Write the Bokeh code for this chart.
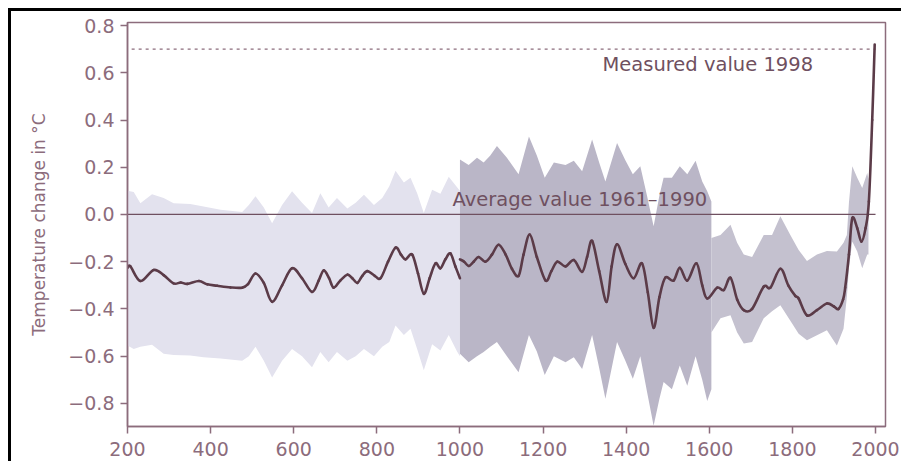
from bokeh.plotting import figure
from bokeh.models import Range1d, FixedTicker
from bokeh.core.properties import value
from bokeh.embed import file_html
from bokeh.resources import INLINE

# ---------------- data ----------------
# reconstruction, part 1 (200-1000)
seg1_years = [200, 207, 231, 263, 287, 311, 328, 344, 372, 392, 416, 448, 476, 490, 508, 528, 548, 572,
              596, 620, 644, 660, 672, 685, 696, 712, 729, 741, 753, 765, 777, 795, 809, 827, 845,
              858, 869, 885, 899, 913, 927, 941, 953, 965, 977, 989, 1000]
seg1_vals = [-0.226, -0.22, -0.282, -0.235, -0.257, -0.292, -0.288, -0.294, -0.282, -0.296, -0.302,
             -0.309, -0.31, -0.295, -0.25, -0.29, -0.37, -0.30, -0.228, -0.27, -0.328, -0.28, -0.237,
             -0.27, -0.31, -0.28, -0.255, -0.27, -0.29, -0.26, -0.24, -0.26, -0.27, -0.2, -0.14,
             -0.17, -0.19, -0.17, -0.25, -0.336, -0.27, -0.207, -0.228, -0.19, -0.165, -0.22, -0.27]

# reconstruction, part 2 (1000-1998)
seg2_years = [1000, 1010, 1021, 1033, 1045, 1061, 1077, 1093, 1110, 1125, 1141, 1153, 1168, 1185,
              1206, 1220, 1234, 1254, 1274, 1294, 1306, 1318, 1335, 1353, 1365, 1378, 1398, 1418,
              1438, 1452, 1466, 1480, 1494, 1514, 1529, 1547, 1569, 1583, 1595, 1619, 1635, 1651,
              1667, 1683, 1703, 1731, 1747, 1771, 1790, 1807, 1815, 1835, 1859, 1883, 1900, 1911,
              1922, 1927, 1936, 1944, 1956, 1966, 1976, 1984, 1992, 1998]
seg2_vals = [-0.19, -0.20, -0.218, -0.2, -0.18, -0.2, -0.17, -0.128, -0.17, -0.23, -0.26, -0.17,
             -0.085, -0.18, -0.28, -0.24, -0.2, -0.22, -0.193, -0.243, -0.18, -0.112, -0.24, -0.37,
             -0.22, -0.126, -0.21, -0.27, -0.207, -0.33, -0.48, -0.35, -0.268, -0.28, -0.226, -0.28,
             -0.207, -0.3, -0.356, -0.31, -0.32, -0.268, -0.36, -0.405, -0.40, -0.306, -0.31, -0.23,
             -0.3, -0.345, -0.356, -0.427, -0.405, -0.377, -0.39, -0.40, -0.36, -0.31, -0.17, -0.016,
             -0.058, -0.115, -0.058, 0.055, 0.40, 0.72]

# uncertainty band, 200-1000 (light)
band1_years = [200, 215, 231, 259, 287, 311, 351, 383, 424, 476, 492, 508, 528, 548, 572, 596, 620,
               644, 664, 684, 704, 729, 749, 769, 793, 813, 830, 845, 865, 881, 897, 913, 933, 953,
               973, 993, 1000]
band1_upper = [0.10, 0.095, 0.048, 0.086, 0.07, 0.048, 0.044, 0.034, 0.02, 0.01, 0.04, 0.077, 0.03,
               -0.037, 0.04, 0.098, 0.05, 0.006, 0.09, 0.03, 0.07, 0.025, 0.05, 0.084, 0.04, 0.07,
               0.12, 0.185, 0.135, 0.155, 0.09, 0.006, 0.105, 0.088, 0.16, 0.115, 0.10]
band1_lower = [-0.555, -0.57, -0.56, -0.552, -0.59, -0.595, -0.597, -0.605, -0.61, -0.62, -0.6,
               -0.56, -0.62, -0.69, -0.62, -0.57, -0.6, -0.647, -0.583, -0.626, -0.583, -0.62,
               -0.6, -0.57, -0.6, -0.56, -0.54, -0.47, -0.51, -0.484, -0.57, -0.66, -0.55, -0.576,
               -0.51, -0.58, -0.6]

# uncertainty band, 1000-1600 (dark)
band2_years = [1000, 1021, 1041, 1057, 1073, 1089, 1113, 1141, 1166, 1185, 1204, 1226, 1254, 1274,
               1294, 1318, 1335, 1350, 1378, 1398, 1416, 1434, 1450, 1466, 1480, 1490, 1510, 1529,
               1547, 1567, 1583, 1595, 1605]
band2_upper = [0.233, 0.21, 0.24, 0.22, 0.25, 0.29, 0.24, 0.17, 0.33, 0.25, 0.155, 0.22, 0.21,
               0.228, 0.183, 0.318, 0.22, 0.14, 0.303, 0.23, 0.17, 0.204, 0.08, -0.05, 0.08, 0.155,
               0.155, 0.204, 0.17, 0.228, 0.14, 0.098, 0.055]
band2_lower = [-0.59, -0.626, -0.6, -0.583, -0.56, -0.54, -0.6, -0.668, -0.51, -0.58, -0.68, -0.6,
               -0.626, -0.605, -0.654, -0.51, -0.65, -0.78, -0.54, -0.62, -0.696, -0.6, -0.75,
               -0.895, -0.78, -0.71, -0.74, -0.64, -0.725, -0.6, -0.7, -0.79, -0.74]

# uncertainty band, 1600-1980
band3_years = [1605, 1627, 1651, 1667, 1683, 1703, 1731, 1751, 1771, 1795, 1815, 1835, 1859, 1883,
               1907, 1923, 1931, 1936, 1944, 1956, 1968, 1980, 1983]
band3_upper = [-0.1, -0.087, -0.044, -0.12, -0.17, -0.18, -0.087, -0.087, -0.008, -0.087, -0.15,
               -0.197, -0.17, -0.155, -0.157, -0.12, -0.087, 0.05, 0.204, 0.155, 0.112, 0.176, 0.15]
band3_lower = [-0.5, -0.44, -0.427, -0.5, -0.547, -0.54, -0.44, -0.41, -0.384, -0.45, -0.505,
               -0.533, -0.512, -0.49, -0.555, -0.484, -0.35, -0.228, -0.115, -0.157, -0.228, -0.17,
               -0.17]

# reference lines
avg_years = [200, 2000]
avg_value = 0.0
measured_years = [210, 2000]
measured_1998 = 0.70

# annotations
labels = ["Average value 1961\u20131990", "Measured value 1998"]
label_x = [982, 1343]
label_y = [0.064, 0.634]

# ticks
x_ticks = [200, 400, 600, 800, 1000, 1200, 1400, 1600, 1800, 2000]
y_ticks = [-0.8, -0.6, -0.4, -0.2, 0.0, 0.2, 0.4, 0.6, 0.8]
y_tick_labels = ["\u22120.8", "\u22120.6", "\u22120.4", "\u22120.2", "0.0", "0.2", "0.4", "0.6", "0.8"]

# ---------------- style ----------------
AXIS = "#8c6c7c"
LINE = "#5b3b48"
TXT = "#6f5060"
LIGHT = "#e3e2ee"
DARK = "#bab6c7"
MID = "#c4c1cf"
FONT = "DejaVu Sans"


def smooth_curve(xs, ys):
    """Catmull-Rom style cubic segments through the given points (drawn as Bezier glyphs)."""
    n = len(xs)
    out = {k: [] for k in ("x0", "y0", "x1", "y1", "cx0", "cy0", "cx1", "cy1")}
    for i in range(n - 1):
        xa, ya = xs[max(i - 1, 0)], ys[max(i - 1, 0)]
        xb, yb = xs[i], ys[i]
        xc, yc = xs[i + 1], ys[i + 1]
        xd, yd = xs[min(i + 2, n - 1)], ys[min(i + 2, n - 1)]
        out["x0"].append(xb); out["y0"].append(yb)
        out["x1"].append(xc); out["y1"].append(yc)
        out["cx0"].append(xb + (xc - xa) / 6.0); out["cy0"].append(yb + (yc - ya) / 6.0)
        out["cx1"].append(xc - (xd - xb) / 6.0); out["cy1"].append(yc - (yd - yb) / 6.0)
    return out


p = figure(width=893, height=453, output_backend="svg", toolbar_location=None,
           x_range=Range1d(200, 2024), y_range=Range1d(-0.898, 0.813),
           min_border_left=116, min_border_right=19, min_border_top=11, min_border_bottom=38)
p.styles = {"margin-left": "8px", "margin-top": "8px",
            "border-left": "3px solid black", "border-top": "3px solid black"}
p.background_fill_color = "white"
p.border_fill_color = "white"
p.outline_line_color = AXIS
p.outline_line_width = 1.5
p.grid.visible = False

p.varea(x=band1_years, y1=band1_lower, y2=band1_upper, fill_color=LIGHT)
p.varea(x=band2_years, y1=band2_lower, y2=band2_upper, fill_color=DARK)
p.varea(x=band3_years, y1=band3_lower, y2=band3_upper, fill_color=MID)

p.line(x=avg_years, y=[avg_value, avg_value], line_color=TXT, line_width=1.3)
p.line(x=measured_years, y=[measured_1998, measured_1998], line_color=AXIS, line_width=1.2,
       line_dash="3 4")

for xs, ys in ((seg1_years, seg1_vals), (seg2_years, seg2_vals)):
    p.bezier(line_color=LINE, line_width=2.6, line_cap="round", **smooth_curve(xs, ys))

p.text(x=label_x, y=label_y, text=labels, text_font=value(FONT), text_font_size="19.5px",
       text_color=TXT, text_align="left", text_baseline="middle")

for ax in (p.xaxis[0], p.yaxis[0]):
    ax.axis_line_color = AXIS
    ax.axis_line_width = 1.5
    ax.major_tick_line_color = AXIS
    ax.major_tick_line_width = 1.5
    ax.major_tick_in = 0
    ax.major_tick_out = 7
    ax.minor_tick_line_color = None
    ax.major_label_text_color = AXIS
    ax.major_label_text_font = FONT
    ax.major_label_text_font_size = "19px"

p.xaxis.ticker = FixedTicker(ticks=x_ticks)
p.xaxis.major_label_standoff = 8
p.yaxis.ticker = FixedTicker(ticks=y_ticks)
p.yaxis.major_label_overrides = {t: s for t, s in zip(y_ticks, y_tick_labels)}
p.yaxis.major_label_standoff = 6
p.yaxis.axis_label = "Temperature change in \u00b0C"
p.yaxis.axis_label_text_font = FONT
p.yaxis.axis_label_text_font_size = "17px"
p.yaxis.axis_label_text_font_style = "normal"
p.yaxis.axis_label_text_color = AXIS
p.yaxis.axis_label_standoff = 16

open("out.html", "w").write(file_html(p, INLINE))
